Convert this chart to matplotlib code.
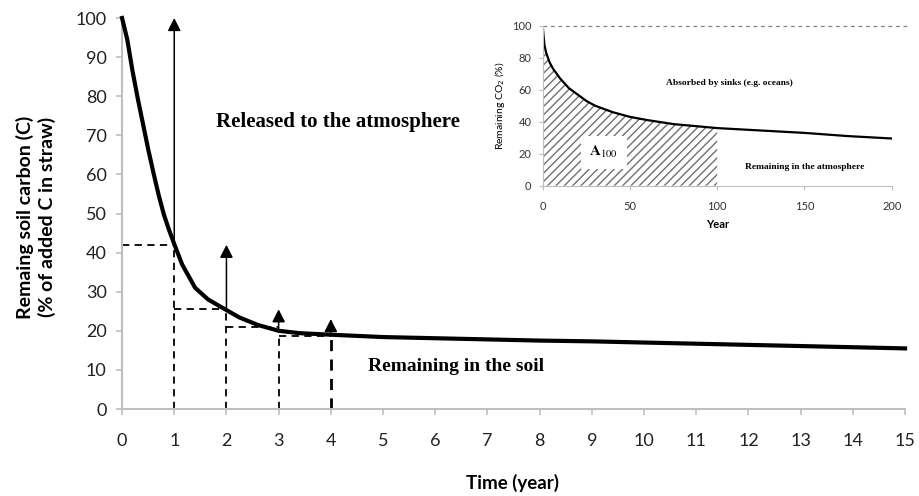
import matplotlib.pyplot as plt

# main chart: soil carbon left from straw
time = [0, 0.1, 0.2, 0.3, 0.4, 0.5, 0.6, 0.7, 0.8, 0.9, 1.0, 1.15, 1.4, 1.65, 2.0,
        2.25, 2.6, 3.0, 3.4, 4.0, 5, 6, 7, 8, 9, 10, 11, 12, 13, 14, 15]
carbon = [100, 94.5, 86.5, 79.5, 73, 66.5, 60.5, 54.8, 49.8, 45.8, 42.2, 37, 31, 28.0, 25.3,
          23.4, 21.5, 20, 19.4, 19, 18.4, 18.1, 17.8, 17.5, 17.3, 17.0, 16.7, 16.4, 16.1, 15.8, 15.5]

step_x = [1, 2, 3, 4]
step_start = [0, 1, 2, 3]
step_level = [42, 25.5, 21, 18.7]      # dashed horizontals
vert_top = [42, 25.5, 18.7, 18.7]      # dashed verticals
arrow_base = [42, 25.5, 20, 19.2]
arrow_tip = [100, 42, 25.5, 23]

# inset: CO2 left in the atmosphere
year = [0, 1, 2, 4, 6, 10, 15, 20, 25, 30, 40, 50, 60, 75, 100, 125, 150, 175, 200]
co2 = [100, 88, 83, 77, 73, 67, 61, 57, 53, 50, 46, 43, 41, 38.5, 36, 34.5, 33, 31, 29.5]
year_a100 = [y for y in year if y <= 100]
co2_a100 = co2[:len(year_a100)]

sans = 'Lato'
serif = 'Liberation Serif'
grey = '#bfbfbf'

fig = plt.figure(figsize=(9.19, 4.96), dpi=100)
ax = fig.add_axes([0.1328, 0.1754, 0.852, 0.7883])

ax.plot(time, carbon, color='black', lw=3, clip_on=False, zorder=5)

for x0, x1, lev in zip(step_start, step_x, step_level):
    ax.plot([x0, x1], [lev, lev], color='black', lw=1.3, ls=(0, (4, 3)))
for x, top in zip(step_x, vert_top):
    lw = 2 if x == 4 else 1.3
    ax.plot([x, x], [0, top], color='black', lw=lw, ls=(0, (4, 3)), clip_on=False)
for x, b, t in zip(step_x, arrow_base, arrow_tip):
    ax.annotate('', xy=(x, t), xytext=(x, b), annotation_clip=False,
                arrowprops=dict(arrowstyle='-|>,head_length=0.55,head_width=0.28',
                                color='black', lw=1.1, shrinkA=0, shrinkB=0,
                                mutation_scale=14))

ax.text(1.8, 73.4, 'Released to the atmosphere', family=serif, weight='bold',
        fontsize=15, va='center', ha='left')
ax.text(4.71, 10.8, 'Remaining in the soil', family=serif, weight='bold',
        fontsize=14, va='center', ha='left')

ax.set_xlim(0, 15)
ax.set_ylim(0, 100)
ax.set_xticks(range(0, 16))
ax.set_yticks(range(0, 101, 10))
for s in ['top', 'right']:
    ax.spines[s].set_visible(False)
for s in ['left', 'bottom']:
    ax.spines[s].set_color(grey)
    ax.spines[s].set_linewidth(1.5)
ax.tick_params(axis='both', color=grey, width=1.2, length=4, labelsize=13)
ax.tick_params(axis='x', pad=13)
ax.tick_params(axis='y', pad=7)
for lab in ax.get_xticklabels() + ax.get_yticklabels():
    lab.set_family(sans)
    lab.set_color('#222222')

fig.text(0.039, 0.562, 'Remaing soil carbon (C)\n(% of added C in straw)', rotation=90,
         ha='center', va='center', family=sans, weight='bold', fontsize=14,
         multialignment='center', linespacing=1.3)
fig.text(0.558, 0.026, 'Time (year)', ha='center', va='center', family=sans,
         weight='bold', fontsize=13.5)

# inset
ins = fig.add_axes([0.5905, 0.6256, 0.3798, 0.3226])
ins.fill_between(year_a100, 0, co2_a100, facecolor='white', edgecolor='#707070',
                 hatch='////', lw=0)
ins.plot(year, co2, color='black', lw=1.6)
ins.plot([0, 210], [100, 100], color='#808080', lw=0.9, ls=(0, (3, 3)), clip_on=False)
ins.text(35, 21, r'$\mathbf{A}_{\mathit{100}}$', ha='center', va='center', fontsize=11,
         math_fontfamily='stix',
         bbox=dict(facecolor='white', edgecolor='none', pad=6))
ins.text(107, 64, 'Absorbed by sinks (e.g. oceans)', family=serif, weight='bold',
         fontsize=6.8, ha='center', va='center')
ins.text(150, 11.5, 'Remaining in the atmosphere', family=serif, weight='bold',
         fontsize=6.8, ha='center', va='center')
ins.set_xlim(0, 200)
ins.set_ylim(0, 100)
ins.set_xticks(range(0, 201, 50))
ins.set_yticks(range(0, 101, 20))
for s in ['top', 'right']:
    ins.spines[s].set_visible(False)
for s in ['left', 'bottom']:
    ins.spines[s].set_color(grey)
ins.tick_params(axis='both', color=grey, length=3, labelsize=8)
ins.tick_params(axis='x', pad=8)
ins.tick_params(axis='y', pad=5)
for lab in ins.get_xticklabels() + ins.get_yticklabels():
    lab.set_family(sans)
    lab.set_color('#333333')
ins.set_ylabel('Remaining CO$_2$ (%)', family=sans, fontsize=7.5, labelpad=4)
ins.set_xlabel('Year', family=sans, weight='bold', fontsize=8, labelpad=5)

fig.savefig('out.png', dpi=100, facecolor='white')
